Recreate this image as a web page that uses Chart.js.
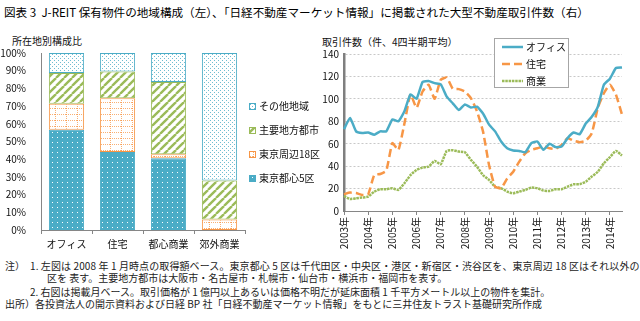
<!DOCTYPE html>
<html lang="ja">
<head>
<meta charset="utf-8">
<title>J-REIT 保有物件の地域構成と大型不動産取引件数</title>
<script src="https://cdn.jsdelivr.net/npm/chart.js@4.4.1/dist/chart.umd.min.js"></script>
<style>
  html, body { margin: 0; padding: 0; background: #fff; }
  body { width: 640px; height: 321px; position: relative; overflow: hidden;
         font-family: "Noto Sans CJK JP", "Noto Sans", sans-serif; color: #111; }
  .txt { position: absolute; white-space: nowrap; line-height: 1; }
  #title { left: 4px; top: 7px; font-size: 11.6px; color: #000; }
  .axis-title { font-size: 10px; top: 36px; }
  .note { font-size: 10px; color: #222; }
  canvas { position: absolute; top: 30px; }
  #share { left: 0; }
  #deals { left: 320px; }
</style>
</head>
<body>
<div id="title" class="txt">図表 3&nbsp; J-REIT 保有物件の地域構成（左）、「日経不動産マーケット情報」に掲載された大型不動産取引件数（右）</div>
<div class="txt axis-title" style="left:12px">所在地別構成比</div>
<div class="txt axis-title" style="left:322px;top:37px">取引件数（件、4四半期平均）</div>

<canvas id="share" width="320" height="228"></canvas>
<canvas id="deals" width="320" height="228"></canvas>

<div class="txt note" style="left:5px;top:261px">注）</div>
<div class="txt note" style="left:30px;top:261px;letter-spacing:0.1px">1. 左図は 2008 年 1 月時点の取得額ベース。東京都心 5 区は千代田区・中央区・港区・新宿区・渋谷区を、東京周辺 18 区はそれ以外の</div>
<div class="txt note" style="left:47px;top:273px">区を 表す。主要地方都市は大阪市・名古屋市・札幌市・仙台市・横浜市・福岡市を表す。</div>
<div class="txt note" style="left:30px;top:287px">2. 右図は掲載月ベース。取引価格が 1 億円以上あるいは価格不明だが延床面積 1 千平方メートル以上の物件を集計。</div>
<div class="txt note" style="left:5px;top:299px">出所）各投資法人の開示資料および日経 BP 社「日経不動産マーケット情報」をもとに三井住友トラスト基礎研究所作成</div>

<script>
(function () {
  "use strict";

  var FONT = '"Noto Sans CJK JP", "Noto Sans", sans-serif';
  var BLUE = "#4BACC6", ORANGE = "#F79646", GREEN = "#9BBB59";
  var AXIS = "#868686";

  // 左図: 用途別の所在地構成比 (%)
  var types = ["オフィス", "住宅", "都心商業", "郊外商業"];
  var regions = ["東京都心5区", "東京周辺18区", "主要地方都市", "その他地域"];
  var central5 = [56.6, 44.0, 40.6, 0];
  var around18 = [14.7, 30.5, 2.2, 6.0];
  var majorCities = [17.4, 15.1, 40.8, 21.9];
  var otherAreas = [11.3, 10.4, 16.4, 72.1];

  // 右図: 取引件数 (件, 4四半期平均), 2003年1Q〜2014年3Q
  var years = ["2003年", "2004年", "2005年", "2006年", "2007年", "2008年",
               "2009年", "2010年", "2011年", "2012年", "2013年", "2014年"];
  var dealSeries = ["オフィス", "住宅", "商業"];
  var office = [73, 83, 71, 69.5, 70, 68, 71, 71, 81.6, 80, 89, 104,
                100, 115, 116, 114, 113, 102, 96, 90, 95, 92.3, 93, 87,
                77, 71, 62, 56, 54, 53.6, 52.4, 60.5, 62, 54.5, 60, 57,
                57.5, 65, 70, 68.5, 78, 84, 93, 112.6, 118, 127.5, 128];
  var housing = [15, 16.4, 16, 14.3, 15, 32, 33, 36, 60.5, 54.5, 78, 104,
                 92, 106.6, 112.6, 100, 117, 119, 109, 108.7, 106.6, 100.7, 89, 71,
                 41, 21.7, 20.3, 29, 35, 44, 51.5, 54.5, 56, 57.5, 56, 55.4,
                 59, 65, 62.6, 61.4, 62.6, 69.4, 92, 105, 112.6, 103.7, 86];
  var retail = [13.4, 10.7, 11.3, 12, 12.8, 17.3, 19.4, 19.4, 20.3, 18.8, 24.7, 32,
                36.6, 38.7, 39.6, 44.7, 41.7, 53.6, 54.2, 53, 52.4, 45.6, 39.6, 32,
                27.7, 21.7, 20.3, 17.3, 15.8, 17.3, 18.8, 20.9, 20.3, 18.2, 17.9, 19.4,
                19.4, 21.7, 23.8, 23.8, 26.2, 30.7, 35, 42.6, 48, 53.6, 49.4];

  // quarter slots: year label on the 1st quarter, blank otherwise
  var quarters = [];
  years.forEach(function (y) { quarters.push(y, "", "", ""); });
  quarters = quarters.slice(0, office.length);

  // --- hatch / dot fills for the stacked bars ---
  function tile(w, h, paint) {
    var c = document.createElement("canvas");
    c.width = w; c.height = h;
    var g = c.getContext("2d");
    paint(g, w, h);
    return g.createPattern(c, "repeat");
  }

  var fills = {
    central: tile(5, 5, function (g) {
      g.fillStyle = BLUE; g.fillRect(0, 0, 5, 5);
      g.fillStyle = "#fff"; g.fillRect(2, 2, 1, 1);
    }),
    around: tile(11, 6, function (g) {
      g.fillStyle = "#fff"; g.fillRect(0, 0, 11, 6);
      g.fillStyle = "rgba(247,150,70,0.75)";
      for (var y = 0; y < 6; y += 2) g.fillRect(0, y, 1, 1);
      for (var x = 0; x < 11; x += 2) g.fillRect(x, 0, 1, 1);
    }),
    major: tile(8, 8, function (g) {
      g.fillStyle = "#fff"; g.fillRect(0, 0, 8, 8);
      g.strokeStyle = GREEN; g.lineWidth = 2.4;
      [-8, 0, 8].forEach(function (k) {
        g.beginPath(); g.moveTo(k, 8); g.lineTo(k + 8, 0); g.stroke();
      });
    }),
    other: tile(4, 4, function (g) {
      g.fillStyle = "#fff"; g.fillRect(0, 0, 4, 4);
      g.fillStyle = "rgba(75,172,198,0.8)";
      g.fillRect(0, 0, 1, 1); g.fillRect(2, 2, 1, 1);
    })
  };

  // Legend drawn at a fixed spot (box swatches for bars, line samples for lines)
  var sideLegend = {
    id: "sideLegend",
    afterDraw: function (chart, args, o) {
      var ctx = chart.ctx;
      var items = chart.data.datasets.slice();
      if (o.reverse) items.reverse();
      ctx.save();
      if (o.frame) {
        ctx.fillStyle = "#fff";
        ctx.fillRect(o.frame[0], o.frame[1], o.frame[2], o.frame[3]);
        ctx.strokeStyle = "#a6a6a6"; ctx.lineWidth = 1;
        ctx.strokeRect(o.frame[0] + 0.5, o.frame[1] + 0.5, o.frame[2] - 1, o.frame[3] - 1);
      }
      ctx.font = "10px " + FONT;
      ctx.textBaseline = "middle";
      items.forEach(function (d, i) {
        var y = o.y + i * o.step;
        if (o.kind === "box") {
          ctx.fillStyle = d.backgroundColor;
          ctx.fillRect(o.x, Math.round(y) - 3, 7, 7);
          ctx.strokeStyle = d.borderColor; ctx.lineWidth = 1;
          ctx.strokeRect(o.x + 0.5, Math.round(y) - 2.5, 6, 6);
        } else {
          ctx.strokeStyle = d.borderColor;
          ctx.lineWidth = d.borderWidth;
          ctx.setLineDash(d.borderDash || []);
          ctx.beginPath(); ctx.moveTo(o.x, y); ctx.lineTo(o.x + o.len, y); ctx.stroke();
          ctx.setLineDash([]);
        }
        ctx.fillStyle = "#111";
        ctx.fillText(d.label, o.textX, y + 0.5);
      });
      ctx.restore();
    }
  };

  var tickFont = { family: FONT, size: 10 };

  new Chart(document.getElementById("share"), {
    type: "bar",
    data: {
      labels: types,
      datasets: [
        { label: regions[0], data: central5, backgroundColor: fills.central, borderColor: BLUE },
        { label: regions[1], data: around18, backgroundColor: fills.around, borderColor: ORANGE },
        { label: regions[2], data: majorCities, backgroundColor: fills.major, borderColor: GREEN },
        { label: regions[3], data: otherAreas, backgroundColor: fills.other, borderColor: BLUE }
      ]
    },
    options: {
      responsive: false,
      animation: false,
      layout: { padding: { top: 23, right: 75, left: 0, bottom: 0 } },
      datasets: {
        bar: {
          borderWidth: function (c) { return c.raw ? 1 : 0; },
          borderSkipped: false,
          barPercentage: 0.69,
          categoryPercentage: 1
        }
      },
      plugins: {
        legend: { display: false },
        tooltip: { enabled: false },
        sideLegend: { kind: "box", reverse: true, x: 249, y: 76, step: 24, textX: 259 }
      },
      scales: {
        x: {
          stacked: true,
          grid: { drawOnChartArea: false, offset: true, tickLength: 4, color: AXIS },
          border: { color: AXIS },
          ticks: { font: tickFont, color: "#111", padding: 4 },
          afterFit: function (s) { s.height = 28; }
        },
        y: {
          stacked: true,
          min: 0, max: 100,
          grid: { display: false },
          border: { color: AXIS },
          ticks: { stepSize: 10, font: tickFont, color: "#111", padding: 7,
                   callback: function (v) { return v + "%"; } },
          afterFit: function (s) { s.width = 41; }
        }
      }
    },
    plugins: [sideLegend]
  });

  new Chart(document.getElementById("deals"), {
    type: "line",
    data: {
      labels: quarters,
      datasets: [
        { label: dealSeries[0], data: office, borderColor: BLUE, borderWidth: 2.5 },
        { label: dealSeries[1], data: housing, borderColor: ORANGE, borderWidth: 2.5, borderDash: [8, 4] },
        { label: dealSeries[2], data: retail, borderColor: GREEN, borderWidth: 2.5, borderDash: [2.5, 0.8] }
      ]
    },
    options: {
      responsive: false,
      animation: false,
      layout: { padding: { top: 24, right: 18, left: 0, bottom: 0 } },
      elements: { point: { radius: 0 }, line: { tension: 0.15, fill: false } },
      plugins: {
        legend: { display: false },
        tooltip: { enabled: false },
        sideLegend: { kind: "line", frame: [174, 8, 75, 50], x: 182, len: 21,
                      y: 17, step: 17, textX: 206 }
      },
      scales: {
        x: {
          offset: false,
          grid: {
            drawOnChartArea: false, tickLength: 4,
            tickColor: function (c) { return c.index % 4 === 0 ? AXIS : "rgba(0,0,0,0)"; }
          },
          border: { color: AXIS },
          ticks: { autoSkip: false, maxRotation: 90, minRotation: 90, padding: 2,
                   font: tickFont, color: "#111" },
          afterFit: function (s) { s.height = 47; }
        },
        y: {
          min: 0, max: 140,
          grid: { color: "#c8c8c8", drawTicks: false },
          border: { color: "#7f7f7f", width: 2.5, dash: [2, 2] },
          ticks: { stepSize: 20, font: tickFont, color: "#111", padding: 5 },
          afterFit: function (s) { s.width = 24; }
        }
      }
    },
    plugins: [sideLegend]
  });
})();
</script>
</body>
</html>
